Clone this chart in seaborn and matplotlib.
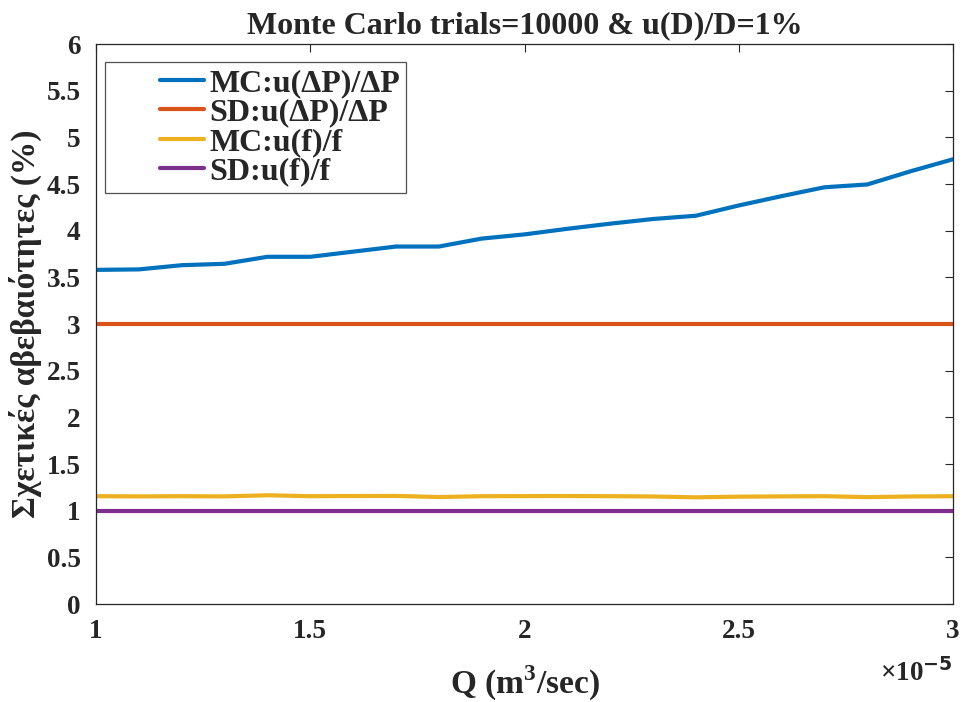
import numpy as np
import pandas as pd
import matplotlib
matplotlib.use("Agg")
import matplotlib.pyplot as plt
import seaborn as sns
from matplotlib.ticker import MultipleLocator, FuncFormatter
from matplotlib.legend_handler import HandlerLine2D
from matplotlib.lines import Line2D

# Flow rate Q (m^3/sec)
q = [1.0e-5, 1.1e-5, 1.2e-5, 1.3e-5, 1.4e-5, 1.5e-5, 1.6e-5, 1.7e-5, 1.8e-5, 1.9e-5,
     2.0e-5, 2.1e-5, 2.2e-5, 2.3e-5, 2.4e-5, 2.5e-5, 2.6e-5, 2.7e-5, 2.8e-5, 2.9e-5, 3.0e-5]

# Relative uncertainties (%)
mc_dp = [3.58, 3.585, 3.63, 3.645, 3.72, 3.72, 3.775, 3.83, 3.83, 3.915,
         3.96, 4.02, 4.075, 4.125, 4.16, 4.27, 4.37, 4.465, 4.495, 4.635, 4.765]
sd_dp = [3.0] * 21
mc_f = [1.155, 1.153, 1.155, 1.153, 1.165, 1.155, 1.157, 1.158, 1.146, 1.155,
        1.156, 1.157, 1.155, 1.152, 1.143, 1.15, 1.153, 1.155, 1.145, 1.152, 1.155]
sd_f = [1.0] * 21

labels = ["MC:u(ΔP)/ΔP", "SD:u(ΔP)/ΔP", "MC:u(f)/f", "SD:u(f)/f"]
colors = ["#0072BD", "#D95319", "#EDB120", "#7E2F8E"]

df = pd.concat([
    pd.DataFrame({"Q": q, "value": v, "series": name})
    for name, v in zip(labels, [mc_dp, sd_dp, mc_f, sd_f])
], ignore_index=True)

sns.set_theme(style="white")
plt.rcParams["font.family"] = ["Liberation Serif", "DejaVu Serif"]
plt.rcParams["font.weight"] = "bold"
plt.rcParams["mathtext.fontset"] = "custom"
plt.rcParams["mathtext.rm"] = "Liberation Serif:bold"
plt.rcParams["mathtext.bf"] = "Liberation Serif:bold"


class RightAlignedLine(HandlerLine2D):
    """Legend handle whose line sits in the right part of the handle box."""

    def __init__(self, frac=0.45, **kw):
        super().__init__(**kw)
        self.frac = frac

    def create_artists(self, legend, orig_handle, xdescent, ydescent,
                       width, height, fontsize, trans):
        x0 = -xdescent + width * (1 - self.frac)
        x1 = -xdescent + width
        y = -ydescent + height / 2
        line = Line2D([x0, x1], [y, y], color=orig_handle.get_color(),
                      linewidth=orig_handle.get_linewidth())
        line.set_transform(trans)
        return [line]


fig = plt.figure(figsize=(9.65, 7.02), dpi=100)
ax = fig.add_axes([96 / 965, 1 - 604 / 702, (953 - 96) / 965, (604 - 44) / 702])

sns.lineplot(data=df, x="Q", y="value", hue="series", hue_order=labels,
             palette=colors, linewidth=3.0, ax=ax, legend=True)

ax.set_xlim(1e-5, 3e-5)
ax.set_ylim(0, 6)
ax.xaxis.set_major_locator(MultipleLocator(0.5e-5))
ax.yaxis.set_major_locator(MultipleLocator(0.5))
# x ticks shown in units of 1e-5 with the exponent written separately
ax.xaxis.set_major_formatter(FuncFormatter(lambda v, p: f"{round(v / 1e-5, 6):g}"))
ax.yaxis.set_major_formatter(FuncFormatter(lambda v, p: f"{v:g}"))

ax.tick_params(direction="in", length=6, width=0.8, top=True, right=True,
               labelsize=19.5, colors="#262626", pad=11)
for lbl in ax.get_xticklabels() + ax.get_yticklabels():
    lbl.set_fontweight("bold")
for s in ax.spines.values():
    s.set_color("#262626")
    s.set_linewidth(0.9)

ax.text(1.0, -0.098, r"$\times$10$^{\mathsf{-5}}$", transform=ax.transAxes,
        ha="right", va="top", fontsize=19.5, fontweight="bold", color="#262626")

ax.set_xlabel("Q (m$^3$/sec)", fontsize=24, fontweight="bold", labelpad=14, color="#262626")
ax.set_ylabel("Σχετικές αβεβαιότητες (%)", fontsize=24, fontweight="bold", labelpad=3,
              color="#262626")
ax.set_title("Monte Carlo trials=10000 & u(D)/D=1%", fontsize=23, fontweight="bold", pad=8)

handles, _ = ax.get_legend_handles_labels()
leg = ax.legend(handles, labels, loc="upper left", bbox_to_anchor=(0.011, 0.967),
                fontsize=23, frameon=True, fancybox=False, edgecolor="#262626",
                handlelength=2.9, handletextpad=0.15, borderpad=0.2,
                labelspacing=0.0, borderaxespad=0,
                handler_map={Line2D: RightAlignedLine(frac=0.48)})
leg.get_frame().set_linewidth(0.9)
for t in leg.get_texts():
    t.set_fontweight("bold")
for h in leg.get_lines():
    h.set_linewidth(3.0)

fig.savefig("out.png", dpi=100)
